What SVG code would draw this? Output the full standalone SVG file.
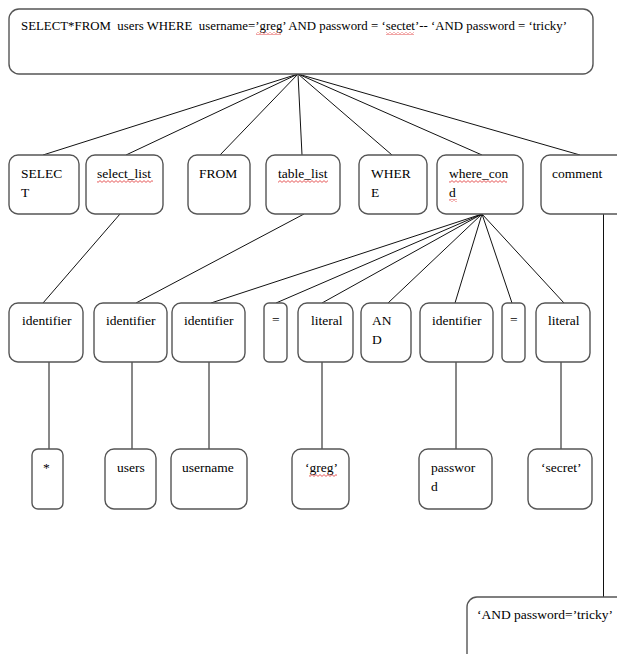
<svg xmlns="http://www.w3.org/2000/svg" width="617" height="654" viewBox="0 0 617 654">
<style>
.box{fill:#fff;stroke:#555;stroke-width:1.4}
.t{font-family:'Liberation Serif','DejaVu Serif',serif;font-size:13.5px;fill:#000;white-space:pre}
.ln{stroke:#111;stroke-width:1;fill:none}
.sq{fill:url(#squig)}
</style>
<defs>
<pattern id="squig" patternUnits="userSpaceOnUse" width="4" height="3">
<path d="M0,0.6 L2,2.4 L4,0.6" fill="none" stroke="#e03030" stroke-width="0.8"/>
</pattern>
</defs>
<rect width="617" height="654" fill="#fff"/>
<g id="connectors">
<line class="ln" x1="298" y1="74" x2="43" y2="155"/>
<line class="ln" x1="298" y1="74" x2="126" y2="155"/>
<line class="ln" x1="298" y1="74" x2="220" y2="155"/>
<line class="ln" x1="298" y1="74" x2="302" y2="155"/>
<line class="ln" x1="298" y1="74" x2="392" y2="155"/>
<line class="ln" x1="298" y1="74" x2="482" y2="155"/>
<line class="ln" x1="298" y1="74" x2="580" y2="155"/>
<line class="ln" x1="120" y1="214" x2="43" y2="303"/>
<line class="ln" x1="304" y1="214" x2="136" y2="303"/>
<line class="ln" x1="482" y1="214" x2="211" y2="303"/>
<line class="ln" x1="482" y1="214" x2="276" y2="303"/>
<line class="ln" x1="482" y1="214" x2="322" y2="303"/>
<line class="ln" x1="482" y1="214" x2="388" y2="303"/>
<line class="ln" x1="482" y1="214" x2="455" y2="303"/>
<line class="ln" x1="482" y1="214" x2="512" y2="303"/>
<line class="ln" x1="482" y1="214" x2="564" y2="303"/>
<line class="ln" x1="49" y1="362" x2="49" y2="449"/>
<line class="ln" x1="132" y1="362" x2="132" y2="449"/>
<line class="ln" x1="209" y1="362" x2="209" y2="449"/>
<line class="ln" x1="322" y1="362" x2="322" y2="449"/>
<line class="ln" x1="456" y1="362" x2="456" y2="449"/>
<line class="ln" x1="561" y1="362" x2="561" y2="449"/>
<line class="ln" x1="603.5" y1="214" x2="603.5" y2="597"/>
</g>
<g id="root">
<rect class="box" x="9" y="9" width="584" height="65" rx="10"/>
<text class="t" x="21" y="30" textLength="546" lengthAdjust="spacingAndGlyphs">SELECT*FROM  users WHERE  username=’greg’ AND password = ‘sectet’-- ‘AND password = ‘tricky’</text>
</g>
<g id="n-select">
<rect class="box" x="9" y="155" width="70" height="59" rx="9"/>
<text class="t" x="21" y="178">SELEC</text>
<text class="t" x="21" y="197">T</text>
</g>
<g id="n-select_list">
<rect class="box" x="86" y="155" width="77" height="59" rx="9"/>
<text class="t" x="97" y="178">select_list</text>
</g>
<g id="n-from">
<rect class="box" x="188" y="155" width="62" height="59" rx="9"/>
<text class="t" x="199" y="178">FROM</text>
</g>
<g id="n-table_list">
<rect class="box" x="266" y="155" width="74" height="59" rx="9"/>
<text class="t" x="278" y="178">table_list</text>
</g>
<g id="n-where">
<rect class="box" x="359" y="155" width="68" height="59" rx="9"/>
<text class="t" x="371" y="178">WHER</text>
<text class="t" x="371" y="197">E</text>
</g>
<g id="n-where_cond">
<rect class="box" x="437" y="155" width="86" height="59" rx="9"/>
<text class="t" x="449" y="178">where_con</text>
<text class="t" x="449" y="197">d</text>
</g>
<g id="n-comment">
<rect class="box" x="541" y="155" width="90" height="59" rx="9"/>
<text class="t" x="552" y="178">comment</text>
</g>
<g id="n-id1">
<rect class="box" x="9" y="303" width="74" height="59" rx="9"/>
<text class="t" x="22" y="325">identifier</text>
</g>
<g id="n-id2">
<rect class="box" x="94" y="303" width="73" height="59" rx="9"/>
<text class="t" x="106" y="325">identifier</text>
</g>
<g id="n-id3">
<rect class="box" x="172" y="303" width="73" height="59" rx="9"/>
<text class="t" x="184" y="325">identifier</text>
</g>
<g id="n-eq1">
<rect class="box" x="264" y="303" width="23" height="59" rx="5"/>
<text class="t" x="272" y="324">=</text>
</g>
<g id="n-literal1">
<rect class="box" x="298" y="303" width="55" height="59" rx="9"/>
<text class="t" x="311" y="325">literal</text>
</g>
<g id="n-and">
<rect class="box" x="361" y="303" width="50" height="59" rx="9"/>
<text class="t" x="372" y="325">AN</text>
<text class="t" x="372" y="344">D</text>
</g>
<g id="n-id4">
<rect class="box" x="420" y="303" width="73" height="59" rx="9"/>
<text class="t" x="432" y="325">identifier</text>
</g>
<g id="n-eq2">
<rect class="box" x="502" y="303" width="23" height="59" rx="5"/>
<text class="t" x="510" y="324">=</text>
</g>
<g id="n-literal2">
<rect class="box" x="536" y="303" width="54" height="59" rx="9"/>
<text class="t" x="548" y="325">literal</text>
</g>
<g id="n-star">
<rect class="box" x="32" y="449" width="31" height="60" rx="6"/>
<text class="t" x="43" y="472">*</text>
</g>
<g id="n-users">
<rect class="box" x="105" y="449" width="51" height="60" rx="9"/>
<text class="t" x="117" y="472">users</text>
</g>
<g id="n-username">
<rect class="box" x="171" y="449" width="76" height="60" rx="9"/>
<text class="t" x="182" y="472">username</text>
</g>
<g id="n-greg">
<rect class="box" x="292" y="449" width="57" height="60" rx="9"/>
<text class="t" x="305" y="472">‘greg’</text>
</g>
<g id="n-password">
<rect class="box" x="419" y="449" width="73" height="60" rx="9"/>
<text class="t" x="431" y="472">passwor</text>
<text class="t" x="431" y="491">d</text>
</g>
<g id="n-secret">
<rect class="box" x="528" y="449" width="64" height="60" rx="9"/>
<text class="t" x="541" y="472">‘secret’</text>
</g>
<g id="n-tricky">
<rect class="box" x="467" y="597" width="170" height="80" rx="10"/>
<text class="t" x="477" y="619">‘AND password=’tricky’</text>
</g>
<g id="spellcheck">
<rect class="sq" x="256" y="32" width="25" height="3"/>
<rect class="sq" x="386" y="32" width="28" height="3"/>
<rect class="sq" x="97" y="180" width="56" height="3"/>
<rect class="sq" x="278" y="180" width="50" height="3"/>
<rect class="sq" x="449" y="180" width="58" height="3"/>
<rect class="sq" x="449" y="199" width="8" height="3"/>
<rect class="sq" x="309" y="474" width="28" height="3"/>
</g>
</svg>
